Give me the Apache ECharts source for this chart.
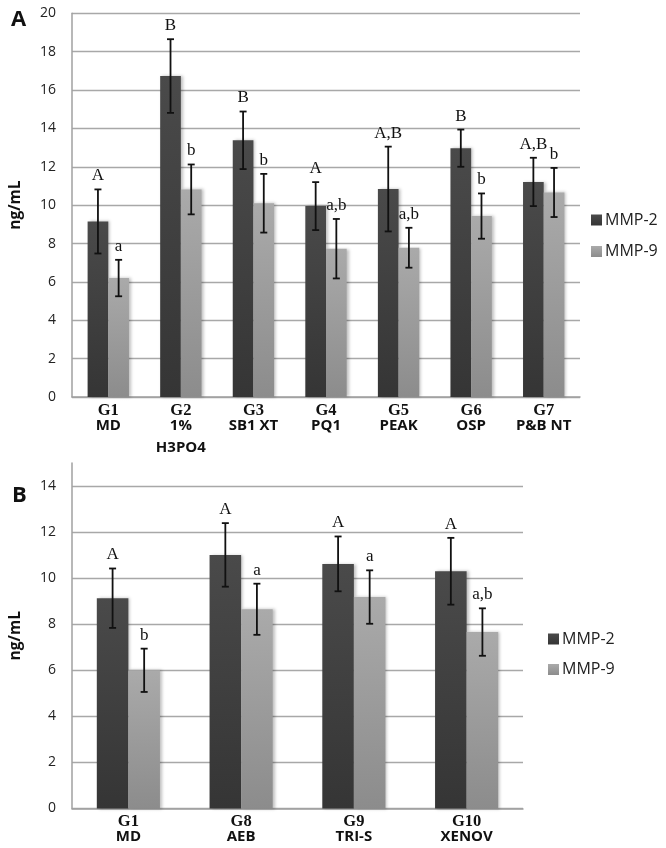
<!DOCTYPE html>
<html>
<head>
<meta charset="utf-8">
<script src="https://cdn.jsdelivr.net/npm/echarts@6/dist/echarts.min.js"></script>
<style>
html,body{margin:0;padding:0;background:#fff;}
#chart{width:666px;height:848px;}
</style>
</head>
<body>
<div id="chart"></div>
<script>
// ---- Data (panel A) ----
const groupsA = ['G1', 'G2', 'G3', 'G4', 'G5', 'G6', 'G7'];
const materialsA = ['MD', '1%\nH3PO4', 'SB1 XT', 'PQ1', 'PEAK', 'OSP', 'P&B NT'];
const mmp2A = [9.15, 16.73, 13.38, 9.95, 10.84, 12.97, 11.21];
const mmp2ErrA = [1.67, 1.92, 1.50, 1.25, 2.21, 0.97, 1.26];
const mmp9A = [6.20, 10.82, 10.10, 7.73, 7.78, 9.43, 10.66];
const mmp9ErrA = [0.95, 1.30, 1.53, 1.55, 1.04, 1.18, 1.28];
const lettersA2 = ['A', 'B', 'B', 'A', 'A,B', 'B', 'A,B'];
const lettersA9 = ['a', 'b', 'b', 'a,b', 'a,b', 'b', 'b'];
const yTicksA = { min: 0, max: 20, interval: 2 };

// ---- Data (panel B) ----
const groupsB = ['G1', 'G8', 'G9', 'G10'];
const materialsB = ['MD', 'AEB', 'TRI-S', 'XENOV'];
const mmp2B = [9.13, 11.01, 10.62, 10.30];
const mmp2ErrB = [1.29, 1.38, 1.19, 1.45];
const mmp9B = [6.00, 8.65, 9.18, 7.66];
const mmp9ErrB = [0.94, 1.11, 1.16, 1.03];
const lettersB2 = ['A', 'A', 'A', 'A'];
const lettersB9 = ['b', 'a', 'a', 'a,b'];
const yTicksB = { min: 0, max: 15, interval: 2 };

const seriesNames = ['MMP-2', 'MMP-9'];

// ---- Styles ----
const SANS = '"Open Sans", "Liberation Sans", sans-serif';
const SERIF = '"Liberation Serif", "DejaVu Serif", serif';
const darkFill = new echarts.graphic.LinearGradient(0, 0, 0, 1, [
  { offset: 0, color: '#4a4a4a' }, { offset: 1, color: '#353535' }]);
const lightFill = new echarts.graphic.LinearGradient(0, 0, 0, 1, [
  { offset: 0, color: '#aaaaaa' }, { offset: 1, color: '#8c8c8c' }]);
const gapA = 0.43, gapB = 0.44;

function catLabels(groups, materials) {
  return groups.map((g, i) => {
    const lines = materials[i].split('\n');
    return '{g|' + g + '}\n' + lines.map((l, k) => (k === 0 ? '{n|' + l + '}' : '{m|' + l + '}')).join('\n');
  });
}

function errSeries(name, axisIdx, means, errs, letters, side, gap) {
  return {
    type: 'custom',
    name: name,
    xAxisIndex: axisIdx,
    yAxisIndex: axisIdx,
    z: 5,
    data: means.map((m, i) => [i, m - errs[i], m + errs[i]]),
    encode: { x: 0, y: [1, 2] },
    renderItem: function (params, api) {
      const i = api.value(0);
      const catW = api.size([1, 0])[0];
      const dx = side * catW * (1 - gap) / 4;
      const hi = api.coord([i, api.value(2)]);
      const lo = api.coord([i, api.value(1)]);
      const x = hi[0] + dx;
      const cap = 3.5;
      const st = { stroke: '#111', lineWidth: 1.8 };
      return {
        type: 'group',
        children: [
          { type: 'line', shape: { x1: x, y1: hi[1], x2: x, y2: lo[1] }, style: st },
          { type: 'line', shape: { x1: x - cap, y1: hi[1], x2: x + cap, y2: hi[1] }, style: st },
          { type: 'line', shape: { x1: x - cap, y1: lo[1], x2: x + cap, y2: lo[1] }, style: st },
          { type: 'text', x: x, y: hi[1] - 5,
            style: { text: letters[params.dataIndex], font: '17px ' + SERIF, fill: '#111',
                     align: 'center', verticalAlign: 'bottom' } }
        ]
      };
    }
  };
}

function barSeries(name, axisIdx, data, fill, gap) {
  return {
    type: 'bar', name: name, xAxisIndex: axisIdx, yAxisIndex: axisIdx,
    data: data, barGap: '0%', barCategoryGap: (gap * 100) + '%',
    itemStyle: { color: fill, shadowBlur: 3, shadowOffsetX: 2, shadowOffsetY: 0, shadowColor: 'rgba(0,0,0,0.25)' },
    emphasis: { disabled: true }
  };
}

function xAxis(gridIdx, groups, materials, margin) {
  return {
    type: 'category', gridIndex: gridIdx, data: catLabels(groups, materials),
    axisLine: { lineStyle: { color: '#a0a0a0', width: 1.5 } },
    axisTick: { show: false },
    axisLabel: {
      margin: margin, interval: 0,
      rich: {
        g: { fontFamily: SERIF, fontWeight: 'bold', fontSize: 16.5, color: '#111', lineHeight: 14 },
        n: { fontFamily: SANS, fontWeight: 'bold', fontSize: 15, color: '#111', lineHeight: 16 },
        m: { fontFamily: SANS, fontWeight: 'bold', fontSize: 15, color: '#111', lineHeight: 28 }
      }
    }
  };
}

function yAxis(gridIdx, ticks) {
  return {
    type: 'value', gridIndex: gridIdx, min: ticks.min, max: ticks.max, interval: ticks.interval,
    name: 'ng/mL', nameLocation: 'middle', nameGap: 48,
    nameTextStyle: { fontFamily: SANS, fontWeight: 'bold', fontSize: 15.5, color: '#111' },
    axisLine: { show: true, lineStyle: { color: '#a0a0a0', width: 1.5 } },
    axisTick: { show: false },
    axisLabel: { fontFamily: SANS, fontSize: 14, color: '#222', margin: 16, showMaxLabel: ticks.max % ticks.interval === 0 },
    splitLine: { lineStyle: { color: '#a8a8a8', width: 1.4 }, showMaxLine: ticks.max % ticks.interval === 0 }
  };
}

const chart = echarts.init(document.getElementById('chart'), null, { renderer: 'canvas' });
chart.setOption({
  backgroundColor: '#fff',
  animation: false,
  color: [darkFill, lightFill],
  title: [
    { text: 'A', left: 6, top: 4, textStyle: { fontFamily: SANS, fontWeight: 'bold', fontSize: 22, color: '#111' } },
    { text: 'B', left: 7, top: 480, textStyle: { fontFamily: SANS, fontWeight: 'bold', fontSize: 22, color: '#111' } }
  ],
  legend: [
    { data: seriesNames, orient: 'vertical', left: 591, top: 212, padding: 0, itemGap: 15.5,
      itemWidth: 11, itemHeight: 11, icon: 'rect', selectedMode: false,
      textStyle: { fontFamily: SANS, fontSize: 16, color: '#222', lineHeight: 16, padding: [0, 0, 0, -2] } },
    { data: seriesNames, orient: 'vertical', left: 548, top: 631, padding: 0, itemGap: 14.5,
      itemWidth: 11, itemHeight: 11, icon: 'rect', selectedMode: false,
      textStyle: { fontFamily: SANS, fontSize: 16, color: '#222', lineHeight: 16, padding: [0, 0, 0, -2] } }
  ],
  grid: [
    { left: 70, top: 13.3, width: 510, height: 383.7 },
    { left: 70, top: 463, width: 453, height: 345.5 }
  ],
  xAxis: [xAxis(0, groupsA, materialsA, 7), xAxis(1, groupsB, materialsB, 6)],
  yAxis: [yAxis(0, yTicksA), yAxis(1, yTicksB)],
  series: [
    barSeries(seriesNames[0], 0, mmp2A, darkFill, gapA),
    barSeries(seriesNames[1], 0, mmp9A, lightFill, gapA),
    barSeries(seriesNames[0], 1, mmp2B, darkFill, gapB),
    barSeries(seriesNames[1], 1, mmp9B, lightFill, gapB),
    errSeries('errA2', 0, mmp2A, mmp2ErrA, lettersA2, -1, gapA),
    errSeries('errA9', 0, mmp9A, mmp9ErrA, lettersA9, 1, gapA),
    errSeries('errB2', 1, mmp2B, mmp2ErrB, lettersB2, -1, gapB),
    errSeries('errB9', 1, mmp9B, mmp9ErrB, lettersB9, 1, gapB)
  ]
});
</script>
</body>
</html>
